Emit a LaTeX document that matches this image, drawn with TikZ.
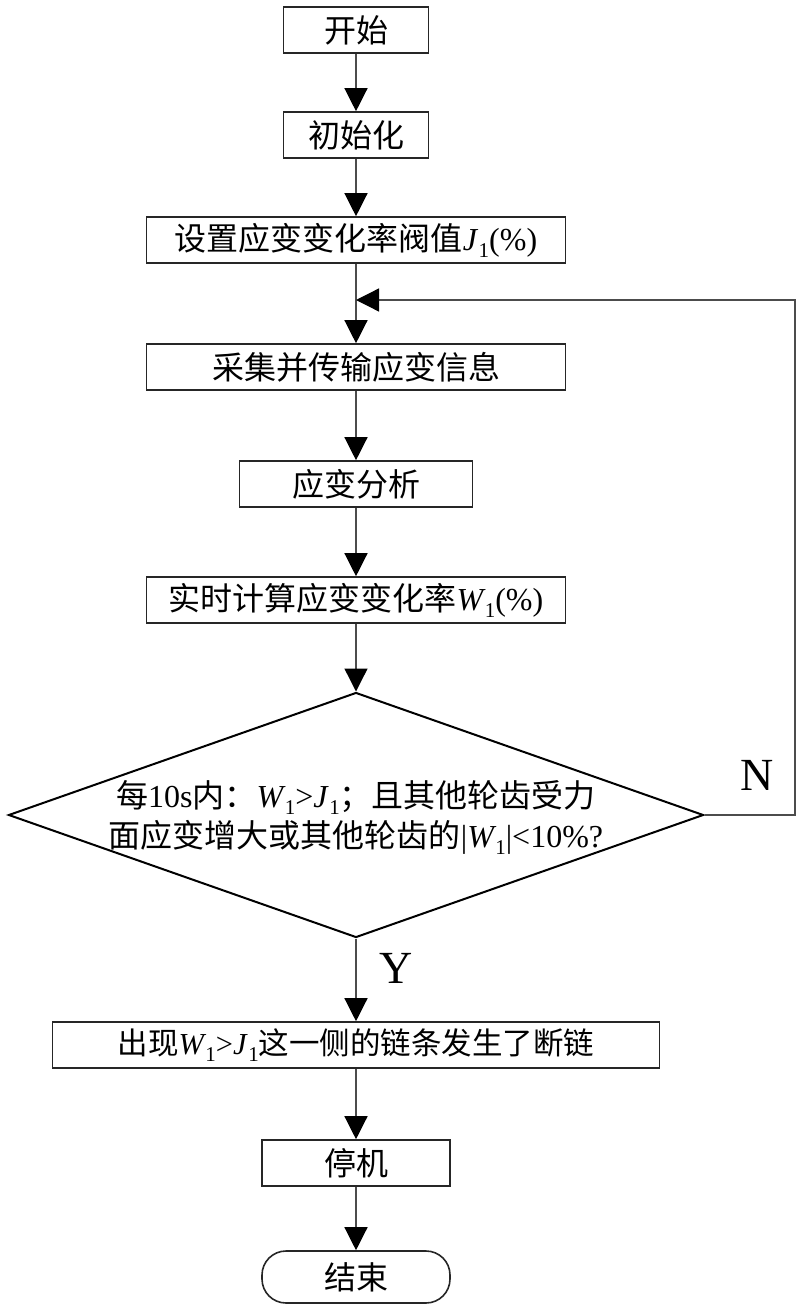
\documentclass[tikz,border=0pt]{standalone}
\usepackage{fontspec}
\setmainfont{Liberation Serif}
\newfontfamily\cjk{Noto Sans CJK SC}
\usetikzlibrary{arrows.meta,shapes.geometric}
\newcommand\subone{\raisebox{-0.22em}{\fontsize{21}{21}\selectfont 1}}
\newcommand\varW{\textit{W}\kern-1pt\subone}
\newcommand\varJ{\textit{J}\kern0.5pt\subone}
\begin{document}
\begin{tikzpicture}[x=1pt,y=-1pt,
  box/.style={draw=black!85, line width=1.6pt, minimum height=46pt, inner sep=0pt,
    font=\fontsize{32}{40}\selectfont},
  conn/.style={draw=black!70, line width=1.3pt, -{Triangle[width=23pt,length=23pt,color=black]}},
  lbl/.style={font=\fontsize{46}{46}\selectfont, inner sep=0pt}]
\useasboundingbox (0,0) rectangle (800,1311);
\node[box, minimum width=145pt] (start) at (356,30) {\cjk 开始};
\node[box, minimum width=145pt] (init) at (356,135) {\cjk 初始化};
\node[box, minimum width=419pt] (set) at (356,240) {{\cjk 设置应变变化率阀值}\varJ(\%)};
\coordinate (join) at (356,300);
\node[box, minimum width=419pt] (collect) at (356,367) {\cjk 采集并传输应变信息};
\node[box, minimum width=233pt] (ana) at (356,484) {\cjk 应变分析};
\node[box, minimum width=419pt] (calc) at (356,600) {{\cjk 实时计算应变变化率}\varW(\%)};
\node[diamond, draw=black, line width=2pt, minimum width=695pt, minimum height=245pt, inner sep=0pt] (dec) at (356,815) {};
\node[align=center, inner sep=0pt, font=\fontsize{32}{40}\selectfont] (dectext) at (356,817)
  {{\cjk 每}10s{\cjk 内：}\varW>\varJ{\cjk ；且其他轮齿受力}\\
   {\cjk 面应变增大或其他轮齿的}|\varW|<10\%?};
\coordinate (loopc) at (795,300);
\node[box, minimum width=607pt, font=\fontsize{30.5}{40}\selectfont] (brk) at (356,1045) {{\cjk 出现}\varW>\varJ{\cjk 这一侧的链条发生了断链}};
\node[box, minimum width=188pt] (stop) at (356,1163) {\cjk 停机};
\node[box, rounded corners=24pt, minimum width=188pt, minimum height=52pt] (end) at (356,1277) {\cjk 结束};
\node[lbl] (N) at (757,775) {N};
\node[lbl] (Y) at (396,968) {Y};
\draw[conn] (start) -- (init);
\draw[conn] (init) -- (set);
\draw[conn] (set) -- (collect);
\draw[conn] (collect) -- (ana);
\draw[conn] (ana) -- (calc);
\draw[conn] (calc) -- (dec);
\draw[conn] (dec) -- (brk);
\draw[conn] (brk) -- (stop);
\draw[conn] (stop) -- (end);
\draw[conn] (dec.east) -| (loopc) -- (join);
\end{tikzpicture}
\end{document}
